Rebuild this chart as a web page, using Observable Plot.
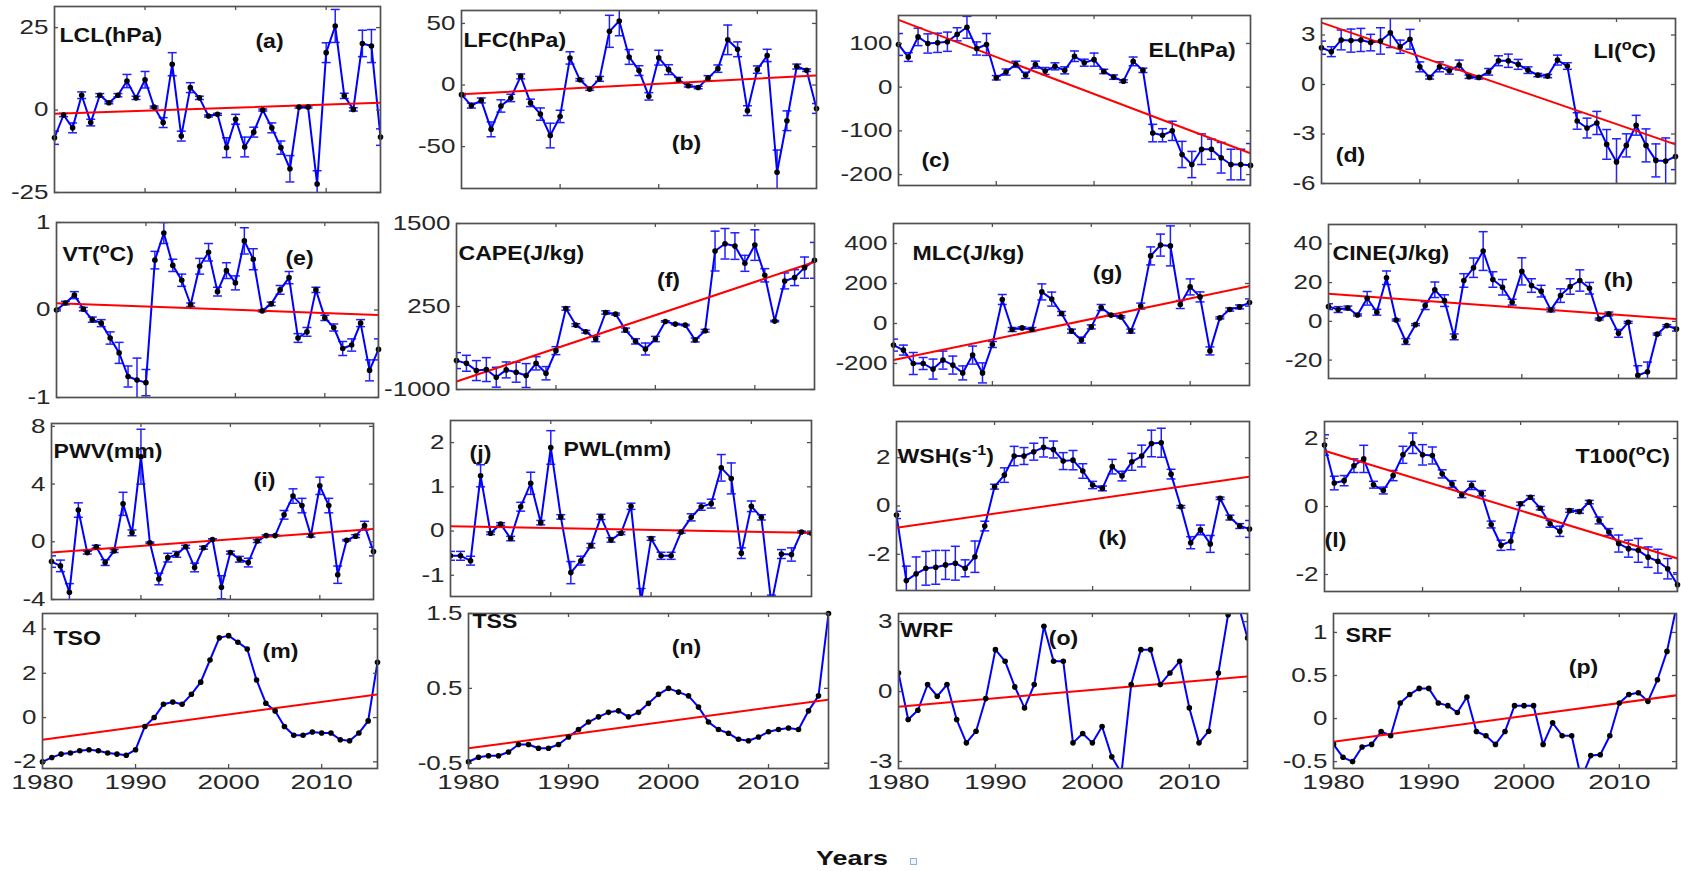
<!DOCTYPE html>
<html>
<head>
<meta charset="utf-8">
<script src="https://cdn.jsdelivr.net/npm/d3@7"></script>
<script src="https://cdn.jsdelivr.net/npm/@observablehq/plot@0.6"></script>
<style>
  html, body { margin: 0; padding: 0; background: #fff; }
  #fig { position: relative; width: 1681px; height: 871px; overflow: hidden;
         font-family: "Liberation Sans", Arial, sans-serif; }
  #fig svg { position: absolute; overflow: visible; }
  #xlabel { position: absolute; left: 852px; top: 858px; transform: translate(-50%, -50%) scaleX(1.28);
            font: bold 21px "Liberation Sans", Arial, sans-serif; color: #111; }
  #anchor { position: absolute; left: 910px; top: 858px; width: 5px; height: 5px;
            border: 1px solid #8fb3e0; background: #eef4fc; }
</style>
</head>
<body>
<div id="fig"><div id="xlabel">Years</div><div id="anchor"></div></div>
<script>
// Annual anomalies 1980–2016, with standard-error bars and linear trend endpoints
const years = d3.range(1980, 2017);
const trendYears = [1980, 2016];
const decadeTicks = [1990, 2000, 2010];
const yearLabels = [1980, 1990, 2000, 2010];

const lclValues = [-8.4,-1.5,-5.4,4.5,-3.8,4.5,2.2,4.5,8.8,3.7, 9.2,0.9,-3.8,13.9,-7.9,6.8,3.7,-1.8,-1.3,-11.4, -2.8,-11.2,-6.7,0,-5.4,-11.4,-17.8,0.9,0.9,-22.4, 17.4,25.5,4.3,0.2,20.2,19.4,-8.2];
const lclErrors = [2,0.5,1.5,1,1,0.5,0.3,0.5,2,0.5, 2.5,0.3,1.5,3.5,1.5,1.5,0.5,0.3,0.3,3, 1.5,3,1.5,0.3,1.5,2,4,0.3,0.3,4, 3,5,0.8,0.5,4,5,2.5];
const lclTrend = [-1.1, 2.2];
const lclTicks = [25, 0, -25];

const lfcValues = [-7.8,-16.7,-12.5,-36,-17,-10.5,7,-14.5,-23.6,-41, -25.5,22,4.2,-3.3,5,43.6,52,22.8,11.7,-9.2, 22.2,12.5,4.2,-0.6,-2,5.6,13.3,36.7,29,-20.8, 12.5,24,-70.8,-29,15,12,-19];
const lfcErrors = [1,2,2,6,5,3,2,3,5,10, 5,5,1,1,2,13,12,6,4,3, 6,4,2,1,1,2,3,12,6,4, 3,5,18,8,2,1,4];
const lfcTrend = [-7.5, 7.8];
const lfcTicks = [50, 0, -50];

const elValues = [97.7,69,115,100,101.5,104,121,137,88.5,97.7, 21.5,34.6,52.3,27,51.5,37,47.7,38.5,70.8,56, 63,36,23,13.8,59,38.5,-105,-110,-100,-154, -177,-142,-142,-161.5,-177,-177,-179];
const elErrors = [25,10,20,22,22,22,15,25,15,25, 5,7,7,7,8,8,8,8,12,8, 15,5,5,3,10,5,20,15,22,30, 30,35,23,35,35,35,50];
const elTrend = [154, -151.5];
const elTicks = [100, 0, -100, -200];

const liValues = [2.23,1.99,2.7,2.66,2.7,2.54,2.64,3.14,2.29,2.74, 1.07,0.43,1.07,0.83,1.18,0.47,0.43,0.77,1.44,1.44, 1.22,0.87,0.57,0.51,1.48,1.12,-2.21,-2.64,-2.33,-3.63, -4.69,-3.69,-2.47,-3.69,-4.6,-4.64,-4.36];
const liErrors = [0.4,0.3,0.6,0.7,0.7,0.5,0.8,0.9,0.4,0.6, 0.3,0.1,0.3,0.2,0.3,0.1,0.1,0.2,0.3,0.4, 0.3,0.2,0.1,0.1,0.3,0.2,0.5,0.6,0.7,0.9, 1.4,0.7,0.6,1,1,1.4,0.8];
const liTrend = [3.75, -3.63];
const liTicks = [3, 0, -3, -6];

const vtValues = [0,0.08,0.17,0.01,-0.11,-0.15,-0.32,-0.49,-0.76,-0.8, -0.83,0.57,0.88,0.51,0.34,0.06,0.5,0.66,0.21,0.45, 0.31,0.79,0.58,-0.01,0.07,0.23,0.37,-0.32,-0.25,0.23, -0.09,-0.2,-0.44,-0.4,-0.15,-0.69,-0.45];
const vtErrors = [0.01,0.02,0.04,0.02,0.03,0.04,0.07,0.12,0.12,0.25, 0.15,0.1,0.12,0.07,0.07,0.02,0.09,0.1,0.05,0.09, 0.08,0.15,0.12,0.01,0.02,0.05,0.07,0.05,0.05,0.03, 0.03,0.04,0.08,0.07,0.04,0.12,0.12];
const vtTrend = [0.077, -0.058];
const vtTicks = [1, 0, -1];

const capeValues = [-565,-605,-715,-700,-815,-705,-740,-790,-605,-755, -415,220,-30,-130,-240,160,135,-105,-275,-390, -240,25,-15,-30,-255,-115,1085,1195,1160,900, 1175,720,30,635,685,835,945];
const capeErrors = [120,120,150,180,150,120,150,180,100,100, 60,25,20,20,40,25,15,30,40,90, 40,10,10,10,30,20,300,230,200,120, 230,100,10,120,120,160,270];
const capeTrend = [-880, 920];
const capeTicks = [1500, 250, -1000];

const mlcValues = [-108,-133,-200,-200,-228,-183,-208,-247,-158,-247, -105,120,-30,-22,-30,158,122,50,-38,-83, -17,80,42,33,-38,87,338,392,388,95, 183,133,-137,28,70,83,105];
const mlcErrors = [30,25,55,30,50,45,45,35,45,50, 15,25,10,5,10,40,35,10,10,15, 10,15,5,5,10,15,45,55,100,20, 40,25,20,5,8,10,18];
const mlcTrend = [-183, 187];
const mlcTicks = [400, 200, 0, -200];

const cineValues = [7.6,6.1,6.9,3.3,11.9,4.7,22.5,0.7,-10.4,-1.7, 8.1,16.3,10.7,-8,21.1,27.7,36.3,21.6,17.6,9.9, 25.8,18.5,15.6,5.9,13.3,18,21.1,17.1,1.2,3.8, -6.2,-0.5,-27.9,-26,-6.6,-2.2,-4];
const cineErrors = [1.5,1.5,1,0.5,3.5,1.5,3.5,0.5,1.5,0.5, 2,4,3,1.5,3.5,5,10,4,4,1.5, 7,3.5,3,1,3.5,4,5.5,3,0.5,1, 2,0.5,5,5,0.5,0.5,1];
const cineTrend = [14.2, 1.2];
const cineTicks = [40, 20, 0, -20];

const pwvValues = [-1.37,-1.67,-3.5,2.2,-0.75,-0.34,-1.44,-0.64,2.63,0.62, 5.9,-0.07,-2.58,-1.1,-0.87,-0.34,-1.78,-0.41,0.16,-3.15, -0.75,-1.21,-1.44,0.05,0.43,0.43,1.87,3.17,2.51,0.43, 3.88,2.51,-2.28,0.11,0.39,1.12,-0.68];
const pwvErrors = [0.4,0.4,0.6,0.5,0.1,0.1,0.2,0.1,0.8,0.2, 1.9,0.05,0.4,0.3,0.2,0.1,0.3,0.1,0.05,0.8, 0.1,0.2,0.3,0.1,0.05,0.05,0.3,0.5,0.5,0.1, 0.6,0.5,0.6,0.05,0.1,0.3,0.3];
const pwvTrend = [-0.75, 0.89];
const pwvTicks = [8, 4, 0, -4];

const pwlValues = [-0.56,-0.56,-0.67,1.25,-0.05,0.16,-0.17,0.55,1.08,0.19, 1.89,0.32,-0.94,-0.67,-0.33,0.32,-0.2,-0.05,0.56,-1.6, -0.17,-0.56,-0.56,-0.02,0.31,0.55,0.62,1.43,1.19,-0.5, 0.56,0.31,-1.65,-0.52,-0.53,-0.02,-0.05];
const pwlErrors = [0.1,0.1,0.1,0.25,0.03,0.03,0.05,0.1,0.25,0.05, 0.38,0.05,0.25,0.1,0.05,0.06,0.05,0.03,0.07,0.3, 0.04,0.08,0.08,0.03,0.08,0.08,0.1,0.3,0.35,0.12, 0.12,0.06,0.2,0.1,0.15,0.02,0.02];
const pwlTrend = [0.11, -0.04];
const pwlTicks = [2, 1, 0, -1];

const wshValues = [-0.37,-3.09,-2.81,-2.58,-2.54,-2.44,-2.37,-2.58,-2.1,-0.83, 0.8,1.28,2.07,2.07,2.25,2.43,2.34,1.86,1.9,1.45, 0.87,0.73,1.63,1.24,1.83,2.07,2.59,2.62,1.32,-0.03, -1.52,-0.99,-1.57,0.32,-0.48,-0.83,-0.95];
const wshErrors = [0.15,0.6,0.7,0.7,0.7,0.6,0.7,0.35,0.65,0.2, 0.1,0.3,0.4,0.35,0.35,0.4,0.35,0.35,0.4,0.3, 0.15,0.1,0.3,0.2,0.35,0.45,0.55,0.6,0.2,0.05, 0.25,0.2,0.35,0.05,0.1,0.1,0.35];
const wshTrend = [-0.9, 1.21];
const wshTicks = [2, 0, -2];

const t100Values = [1.81,0.69,0.76,1.2,1.4,0.64,0.47,0.91,1.52,1.86, 1.52,1.5,0.96,0.66,0.34,0.62,0.39,-0.53,-1.14,-1.02, 0.08,0.27,-0.05,-0.51,-0.73,-0.12,-0.15,0.13,-0.41,-0.75, -1.09,-1.24,-1.29,-1.49,-1.61,-1.83,-2.3];
const t100Errors = [0.3,0.2,0.15,0.2,0.4,0.1,0.1,0.15,0.25,0.3, 0.3,0.25,0.12,0.1,0.08,0.12,0.08,0.1,0.15,0.25, 0.05,0.05,0.05,0.1,0.15,0.05,0.05,0.05,0.1,0.1, 0.25,0.25,0.35,0.3,0.35,0.3,0.35];
const t100Trend = [1.64, -1.53];
const t100Ticks = [2, 0, -2];

const tsoValues = [-2,-1.8,-1.65,-1.6,-1.5,-1.45,-1.5,-1.6,-1.65,-1.7, -1.45,-0.4,0,0.6,0.7,0.6,1.05,1.6,2.6,3.6, 3.7,3.4,3.1,1.7,0.65,0.3,-0.4,-0.8,-0.8,-0.65, -0.7,-0.7,-1.0,-1.05,-0.7,-0.15,2.5];
const tsoTrend = [-1.0, 1.05];
const tsoTicks = [4, 2, 0, -2];

const tssValues = [-0.48,-0.42,-0.4,-0.4,-0.35,-0.25,-0.25,-0.3,-0.3,-0.25, -0.15,-0.05,0.05,0.12,0.18,0.2,0.12,0.18,0.3,0.42, 0.5,0.45,0.4,0.25,0.05,-0.05,-0.1,-0.18,-0.2,-0.15, -0.08,-0.05,-0.03,-0.05,0.2,0.4,1.5];
const tssTrend = [-0.3, 0.35];
const tssTicks = [1.5, 0.5, -0.5];

const wrfValues = [0.8,-1.2,-0.8,0.3,-0.2,0.3,-1.2,-2.2,-1.7,-0.3, 1.8,1.3,0.2,-0.7,0.3,2.8,1.3,1.3,-2.2,-1.8, -2.2,-1.5,-2.8,-3.5,0.3,1.8,1.8,0.3,0.8,1.3, -0.7,-2.2,-1.7,0.8,3.3,3.8,2.3];
const wrfTrend = [-0.65, 0.65];
const wrfTicks = [3, 0, -3];

const srfValues = [-0.3,-0.45,-0.5,-0.33,-0.3,-0.15,-0.2,0.18,0.28,0.35, 0.35,0.18,0.15,0.07,0.25,-0.15,-0.2,-0.3,-0.15,0.15, 0.15,0.15,-0.3,-0.05,-0.2,-0.2,-0.7,-0.43,-0.42,-0.2, 0.18,0.28,0.3,0.2,0.45,0.78,1.3];
const srfTrend = [-0.27, 0.27];
const srfTicks = [1, 0.5, 0, -0.5];

const BLUE = "#0000ff", BAR = "#2020ff", RED = "#ff0000", AXIS = "#505050", INK = "#262626";

// Horizontal cap used on the error bars
const cap = { draw(ctx, size) { const w = Math.sqrt(size / Math.PI); ctx.moveTo(-w, 0); ctx.lineTo(w, 0); } };

// Each panel: frame box in page pixels [left, top, right, bottom] and label offsets from the frame's top-left
const panels = [
  {values: lclValues, errors: lclErrors, trend: lclTrend, ticks: lclTicks, y: [-25, 31.4], box: [54, 6, 380, 192], name: "LCL(hPa)", nameAt: [5, 21], tag: "(a)", tagAt: [215, 27]},
  {values: lfcValues, errors: lfcErrors, trend: lfcTrend, ticks: lfcTicks, y: [-84, 60.5], box: [461, 10, 816, 188], name: "LFC(hPa)", nameAt: [2, 22], tag: "(b)", tagAt: [225, 125]},
  {values: elValues, errors: elErrors, trend: elTrend, ticks: elTicks, y: [-225, 164], box: [898, 15, 1250, 185], name: "EL(hPa)", nameAt: [250, 27], tag: "(c)", tagAt: [37, 137]},
  {values: liValues, errors: liErrors, trend: liTrend, ticks: liTicks, y: [-6, 4], box: [1321, 18, 1675, 183], name: "LI(^{o}C)", nameAt: [272, 25], tag: "(d)", tagAt: [29, 129]},
  {values: vtValues, errors: vtErrors, trend: vtTrend, ticks: vtTicks, y: [-1, 1], box: [56, 222, 378, 397], name: "VT(^{o}C)", nameAt: [6, 24], tag: "(e)", tagAt: [243, 28]},
  {values: capeValues, errors: capeErrors, trend: capeTrend, ticks: capeTicks, y: [-1000, 1500], box: [456, 223, 814, 389], name: "CAPE(J/kg)", nameAt: [2, 22], tag: "(f)", tagAt: [212, 49]},
  {values: mlcValues, errors: mlcErrors, trend: mlcTrend, ticks: mlcTicks, y: [-310, 500], box: [893, 223, 1249, 385], name: "MLC(J/kg)", nameAt: [19, 22], tag: "(g)", tagAt: [214, 42]},
  {values: cineValues, errors: cineErrors, trend: cineTrend, ticks: cineTicks, y: [-29.5, 50], box: [1328, 224, 1676, 378], name: "CINE(J/kg)", nameAt: [4, 21], tag: "(h)", tagAt: [290, 48]},
  {values: pwvValues, errors: pwvErrors, trend: pwvTrend, ticks: pwvTicks, y: [-4, 8.2], box: [51, 423, 373, 599], name: "PWV(mm)", nameAt: [2, 20], tag: "(i)", tagAt: [213, 49]},
  {values: pwlValues, errors: pwlErrors, trend: pwlTrend, ticks: pwlTicks, y: [-1.48, 2.5], box: [450, 420, 811, 596], name: "PWL(mm)", nameAt: [113, 21], tag: "(j)", tagAt: [30, 25]},
  {values: wshValues, errors: wshErrors, trend: wshTrend, ticks: wshTicks, y: [-3.5, 3.5], box: [896, 421, 1249, 590], name: "WSH(s^{-1})", nameAt: [1, 27], tag: "(k)", tagAt: [216, 109]},
  {values: t100Values, errors: t100Errors, trend: t100Trend, ticks: t100Ticks, y: [-2.5, 2.5], box: [1324, 421, 1677, 591], name: "T100(^{o}C)", nameAt: [251, 27], tag: "(l)", tagAt: [11, 111]},
  {values: tsoValues, trend: tsoTrend, ticks: tsoTicks, y: [-2.3, 4.7], box: [42, 613, 377, 768], name: "TSO", nameAt: [11, 17], tag: "(m)", tagAt: [238, 30], years: true},
  {values: tssValues, trend: tssTrend, ticks: tssTicks, y: [-0.57, 1.5], box: [468, 613, 828, 768], name: "TSS", nameAt: [4, 0], tag: "(n)", tagAt: [218, 26], years: true},
  {values: wrfValues, trend: wrfTrend, ticks: wrfTicks, y: [-3.3, 3.35], box: [898, 613, 1247, 768], name: "WRF", nameAt: [2, 9], tag: "(o)", tagAt: [165, 17], years: true},
  {values: srfValues, trend: srfTrend, ticks: srfTicks, y: [-0.58, 1.22], box: [1333, 613, 1676, 768], name: "SRF", nameAt: [12, 14], tag: "(p)", tagAt: [250, 46], years: true}
];

// Turn "^{...}" markers into raised tspans
function superscripts(svg) {
  const ns = "http://www.w3.org/2000/svg";
  svg.querySelectorAll("text").forEach(t => {
    const s = t.textContent;
    if (!s.includes("^{")) return;
    const fs = parseFloat(t.parentNode.getAttribute("font-size")) || 21;
    const parts = s.split(/\^\{([^}]*)\}/);
    t.textContent = "";
    let raised = false;
    parts.forEach((p, i) => {
      if (p === "") return;
      const ts = document.createElementNS(ns, "tspan");
      ts.textContent = p;
      if (i % 2 === 1) {
        ts.setAttribute("dy", -0.42 * fs);
        ts.setAttribute("font-size", 0.7 * fs);
        raised = true;
      } else if (raised) {
        ts.setAttribute("dy", 0.42 * fs);
        raised = false;
      }
      t.appendChild(ts);
    });
  });
}

// Widen the glyphs of one text group horizontally about each label's anchor
function widen(svg, role, sx) {
  svg.querySelectorAll(`g[aria-description="${role}"] text`).forEach(t => {
    t.setAttribute("transform", (t.getAttribute("transform") || "") + ` scale(${sx},1)`);
  });
}

const fig = document.getElementById("fig");
const M = 40;

for (const p of panels) {
  const [L, T, R, B] = p.box;
  const W = R - L, H = B - T;
  const rows = years.map((year, i) => ({year, v: p.values[i], e: p.errors ? p.errors[i] : 0}));
  const clipDots = p.values.some(v => v < p.y[0] || v > p.y[1]);
  const marks = [];
  if (p.errors) {
    marks.push(
      Plot.ruleX(rows, {x: "year", y1: d => d.v - d.e, y2: d => d.v + d.e, stroke: BAR, strokeWidth: 1.5, clip: true}),
      Plot.dot(rows, {x: "year", y: d => d.v - d.e, symbol: cap, r: 4.5, stroke: BAR, fill: "none", strokeWidth: 1.5, clip: true}),
      Plot.dot(rows, {x: "year", y: d => d.v + d.e, symbol: cap, r: 4.5, stroke: BAR, fill: "none", strokeWidth: 1.5, clip: true})
    );
  }
  marks.push(
    Plot.line(rows, {x: "year", y: "v", stroke: BLUE, strokeWidth: 2, clip: true}),
    Plot.line(trendYears.map((year, i) => ({year, v: p.trend[i]})), {x: "year", y: "v", stroke: RED, strokeWidth: 2, clip: true}),
    Plot.dot(rows, {x: "year", y: "v", r: 2.8, fill: "#000", stroke: null, clip: clipDots}),
    // inward ticks on all four sides
    Plot.tickY(p.ticks, {y: d => d, insetRight: W - 4, stroke: AXIS, strokeWidth: 1.3}),
    Plot.tickY(p.ticks, {y: d => d, insetLeft: W - 4, stroke: AXIS, strokeWidth: 1.3}),
    Plot.tickX(decadeTicks, {x: d => d, insetTop: H - 4, stroke: AXIS, strokeWidth: 1.3}),
    Plot.tickX(decadeTicks, {x: d => d, insetBottom: H - 4, stroke: AXIS, strokeWidth: 1.3}),
    Plot.frame({stroke: AXIS, strokeWidth: 1.7}),
    Plot.text(p.ticks, {y: d => d, text: d => String(d), frameAnchor: "left", textAnchor: "end", dx: -6, fontSize: 20, fill: INK, ariaDescription: "y-tick-label"}),
    Plot.text([p.name], {frameAnchor: "top-left", dx: p.nameAt[0], dy: p.nameAt[1], textAnchor: "start", fontWeight: "bold", fontSize: 21, fill: "#111", ariaDescription: "series-name"}),
    Plot.text([p.tag], {frameAnchor: "top-left", dx: p.tagAt[0], dy: p.tagAt[1], textAnchor: "middle", fontWeight: "bold", fontSize: 21, fill: "#111", ariaDescription: "panel-tag"})
  );
  if (p.years) {
    marks.push(Plot.text(yearLabels, {x: d => d, text: d => String(d), frameAnchor: "bottom", dy: 20, fontSize: 20, fill: INK, ariaDescription: "x-tick-label"}));
  }
  const svg = Plot.plot({
    width: W + 2 * M,
    height: H + 2 * M,
    margin: M,
    style: {fontFamily: "'Liberation Sans', Arial, sans-serif", background: "transparent", overflow: "visible"},
    x: {domain: [1980, 2016], axis: null},
    y: {domain: p.y, axis: null},
    marks
  });
  svg.style.left = (L - M) + "px";
  svg.style.top = (T - M) + "px";
  superscripts(svg);
  widen(svg, "y-tick-label", 1.3);
  widen(svg, "x-tick-label", 1.4);
  widen(svg, "series-name", 1.1);
  widen(svg, "panel-tag", 1.1);
  fig.appendChild(svg);
}
</script>
</body>
</html>
